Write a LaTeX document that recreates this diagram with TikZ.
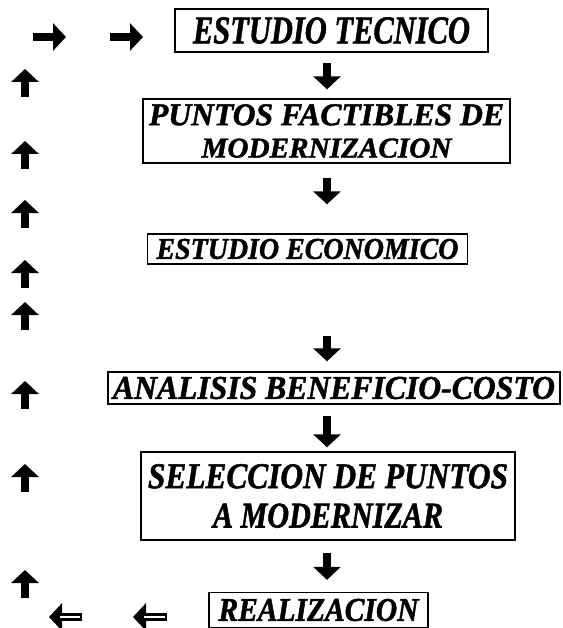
\documentclass[tikz,border=0pt]{standalone}
\usepackage{fontspec}
\usepackage{graphicx}
\setmainfont{Liberation Serif}
\newfontfamily\letrero{Liberation Serif}[BoldItalicFeatures={FakeBold=1.5}]
\usetikzlibrary{arrows.meta}

% text squeezed into a given width and height
\newcommand{\rotulo}[3]{\resizebox{#1pt}{#2pt}{\letrero\bfseries\itshape #3}}

\tikzset{
    caja/.style={draw,line width=1.4pt,inner sep=0pt,align=center},
    flecha/.style={line width=8pt,-{Triangle[width=27pt,length=13pt]}},
    hueca/.style={white,line width=1.5pt}
}

\begin{document}
\begin{tikzpicture}[x=1pt,y=-1pt]
    \useasboundingbox (0,0) rectangle (562,628);

    % Boxes of the main column
    \node[caja,minimum width=313pt,minimum height=43pt] (b1) at (331.5,30.5)
        {\rotulo{277}{26}{ESTUDIO TECNICO}};
    \node[caja,minimum width=367pt,minimum height=64pt] (b2) at (326.5,131)
        {\rotulo{355}{21}{PUNTOS FACTIBLES DE}\\[12pt]\rotulo{250}{19}{MODERNIZACION}};
    \node[caja,minimum width=320pt,minimum height=30pt] (b3) at (307.5,249)
        {\rotulo{302}{20}{ESTUDIO ECONOMICO}};
    \node[caja,minimum width=452pt,minimum height=32pt] (b4) at (334,388)
        {\rotulo{442}{22}{ANALISIS BENEFICIO-COSTO}};
    \node[caja,minimum width=374pt,minimum height=88pt] (b5) at (328,496)
        {\rotulo{360}{24}{SELECCION DE PUNTOS}\\[14pt]\rotulo{230}{24}{A MODERNIZAR}};
    \node[caja,minimum width=219pt,minimum height=35pt] (b6) at (318.5,610)
        {\rotulo{200}{22}{REALIZACION}};

    % Down arrows between the boxes
    \coordinate (col) at (327,0);
    \foreach \a/\b/\s/\e in {b1/b2/10/9, b2/b3/14/29, b3/b4/71/10, b4/b5/11/4, b5/b6/12/12}
        \draw[flecha,shorten <=\s pt,shorten >=\e pt] (\a.south -| col) -- (\b.north -| col);

    % Return path on the left
    \foreach \y in {83,155,214,274,316,395,478,584}
        \draw[flecha] (25,\y+14) -- (25,\y-14);

    \draw[flecha] (33,37) -- (66,37);
    \draw[flecha] (110,37) -- (143,37);

    \draw[flecha] (82,617) -- (49,617);
    \draw[hueca] (80,617) -- (60,617);
    \draw[flecha] (167,617) -- (133,617);
    \draw[hueca] (165,617) -- (144,617);
\end{tikzpicture}
\end{document}
